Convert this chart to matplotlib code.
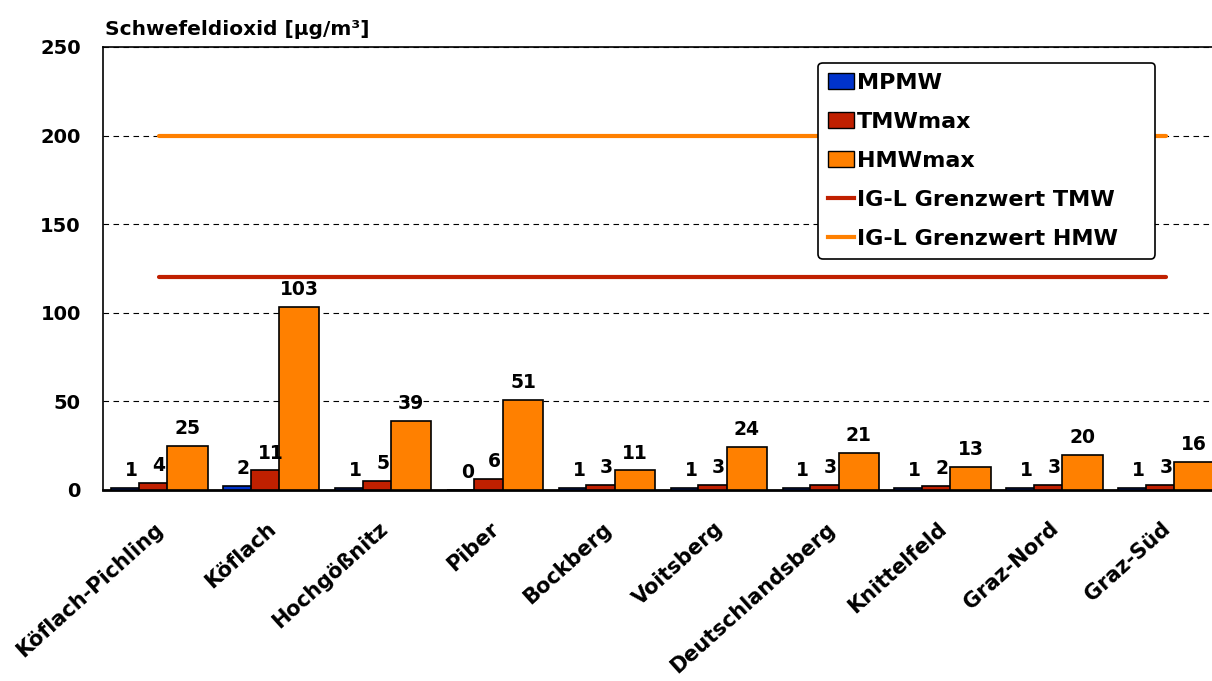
import matplotlib.pyplot as plt
import numpy as np
from matplotlib.patches import Patch
from matplotlib.lines import Line2D
from matplotlib.transforms import ScaledTranslation

plt.rcParams['font.family'] = ['DejaVu Sans']
plt.rcParams['font.weight'] = 'bold'

stationen = ['Köflach-Pichling', 'Köflach', 'Hochgößnitz', 'Piber', 'Bockberg',
             'Voitsberg', 'Deutschlandsberg', 'Knittelfeld', 'Graz-Nord', 'Graz-Süd']
mpmw = [1, 2, 1, 0, 1, 1, 1, 1, 1, 1]
tmw_max = [4, 11, 5, 6, 3, 3, 3, 2, 3, 3]
hmw_max = [25, 103, 39, 51, 11, 24, 21, 13, 20, 16]
grenzwert_tmw = 120
grenzwert_hmw = 200

blau = '#0033cc'
rot = '#c02000'
orange = '#ff8000'

fig = plt.figure(figsize=(12.12, 6.81), dpi=100)
# Plotbereich reicht etwas ueber den rechten Bildrand hinaus
ax = fig.add_axes([0.085, 0.2805, 0.923, 0.6505])

x = np.arange(len(stationen))
w = 0.36
dx = [-0.245, 0.0, 0.255]
ax.bar(x + dx[0], mpmw, w, color=blau, edgecolor='black', linewidth=1.2, zorder=3)
ax.bar(x + dx[1], tmw_max, w, color=rot, edgecolor='black', linewidth=1.2, zorder=4)
ax.bar(x + dx[2], hmw_max, w, color=orange, edgecolor='black', linewidth=1.2, zorder=5)

ax.plot([x[0], x[-1]], [grenzwert_tmw] * 2, color=rot, lw=3, zorder=2, solid_capstyle='round')
ax.plot([x[0], x[-1]], [grenzwert_hmw] * 2, color=orange, lw=3, zorder=2, solid_capstyle='round')

# Werte-Beschriftung
for i in x:
    for off, werte in zip(dx, [mpmw, tmw_max, hmw_max]):
        ax.text(i + off, werte[i] + 4.5, str(werte[i]), ha='center', va='bottom',
                fontsize=13.5, zorder=6)

ax.set_xlim(-0.5, 9.5)
ax.set_ylim(0, 250)
ax.set_yticks([0, 50, 100, 150, 200, 250])
ax.tick_params(axis='y', length=0, labelsize=14, pad=16)
ax.tick_params(axis='x', length=0, labelsize=15, pad=26)
ax.set_xticks(x)
ax.set_xticklabels(stationen, rotation=42, ha='right', va='center', rotation_mode='anchor')
for lab in ax.get_xticklabels():
    lab.set_transform(lab.get_transform() + ScaledTranslation(0.02, 0, fig.dpi_scale_trans))
ax.yaxis.grid(True, ls=(0, (5, 4)), color='black', lw=0.8)
ax.set_axisbelow(True)
ax.spines['left'].set_linewidth(1.2)
ax.spines['top'].set_linewidth(1.2)
ax.spines['bottom'].set_linewidth(2)
ax.spines['right'].set_visible(False)

fig.text(0.087, 0.956, 'Schwefeldioxid [µg/m³]', fontsize=14.5, ha='left', va='center')

handles = [Patch(facecolor=blau, edgecolor='black'),
           Patch(facecolor=rot, edgecolor='black'),
           Patch(facecolor=orange, edgecolor='black'),
           Line2D([], [], color=rot, lw=3),
           Line2D([], [], color=orange, lw=3)]
labels = ['MPMW', 'TMWmax', 'HMWmax', 'IG-L Grenzwert TMW', 'IG-L Grenzwert HMW']
leg = fig.legend(handles, labels, loc='upper left',
                 bbox_to_anchor=(0.675, 0.9075 - 0.3, 0.278, 0.3), mode='expand',
                 borderaxespad=0, fontsize=16, frameon=True, fancybox=True,
                 handlelength=1.15, handleheight=0.75, handletextpad=0.15,
                 labelspacing=0.85, borderpad=0.45)
leg.get_frame().set_edgecolor('black')
leg.get_frame().set_linewidth(1.2)
leg.get_frame().set_alpha(1)
leg.set_zorder(10)

fig.savefig('out.png', dpi=100)
